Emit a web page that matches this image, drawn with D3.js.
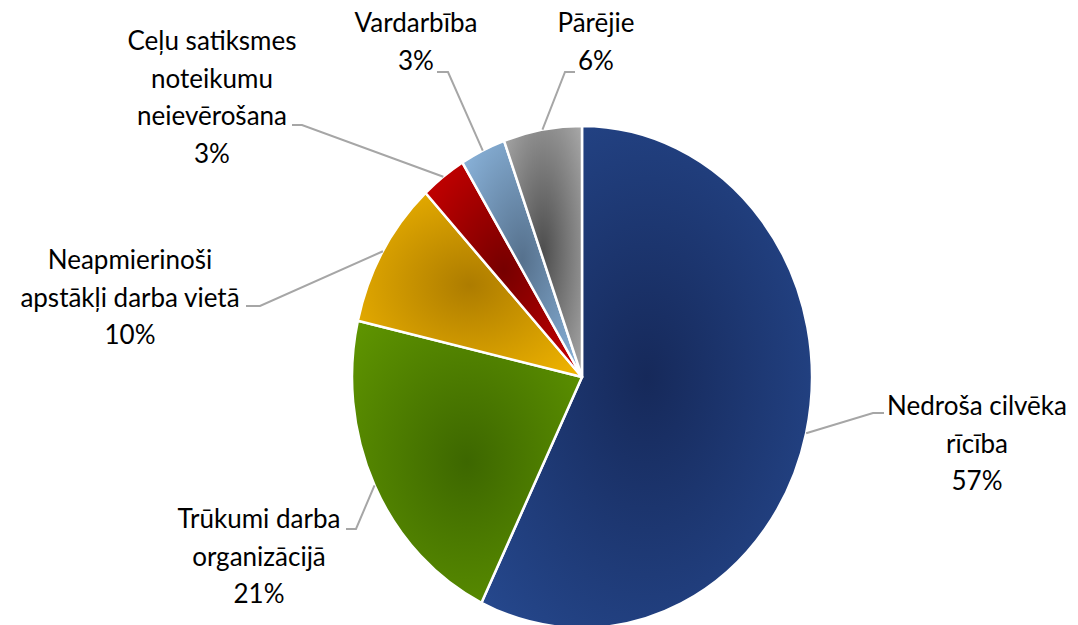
<!DOCTYPE html>
<html>
<head>
<meta charset="utf-8">
<script src="https://cdn.jsdelivr.net/npm/d3@7"></script>
<style>
  html, body { margin: 0; padding: 0; background: #fff; }
  text { font-family: Lato, "Open Sans", sans-serif; fill: #000; }
</style>
</head>
<body>
<svg></svg>
<script>
// slice names (\n = line break in the label) and their shares in %
const categories = [
  "Nedroša cilvēka\nrīcība",
  "Trūkumi darba\norganizācijā",
  "Neapmierinoši\napstākļi darba vietā",
  "Ceļu satiksmes\nnoteikumu\nneievērošana",
  "Vardarbība",
  "Pārējie"
];
const values = [57.2, 21.4, 9.5, 3.2, 3.2, 5.5];

// outer (light) and centre (dark) colour of each slice gradient
const edgeColors = ["#26498f", "#609600", "#f2b600", "#cc0000", "#8db7df", "#a8a8a8"];
const centerColors = ["#16295a", "#3d6700", "#ad7c00", "#760000", "#56718d", "#4e4e4e"];

// label block centre x, first baseline y, elbow point of the leader, end of the leader
const labelLayout = [
  {x: 977, y: 415, ex: 873, ey: 413, tx: 884},
  {x: 259, y: 528, ex: 356, ey: 529, tx: 346},
  {x: 130, y: 269, ex: 260, ey: 306, tx: 246},
  {x: 212, y: 50,  ex: 302, ey: 125, tx: 292},
  {x: 416, y: 32,  ex: 448, ey: 72,  tx: 437},
  {x: 596, y: 32,  ex: 565, ey: 72,  tx: 575}
];

const width = 1078;
const height = 625;
const cx = 582, cy = 377;
const rx = 230, ry = 251;
const lineHeight = 37.7;

const svg = d3.select("svg")
    .attr("width", width)
    .attr("height", height)
    .attr("viewBox", [0, 0, width, height]);

const data = categories.map((c, i) => ({name: c, value: values[i], i}));

const pie = d3.pie()
    .value(d => d.value)
    .sort(null);

const arcs = pie(data);

const arc = d3.arc()
    .innerRadius(0)
    .outerRadius(rx);

//radial gradient per slice, centred in the slice bounding box
const defs = svg.append("defs");
arcs.forEach((a, i) => {
  const g = defs.append("radialGradient")
      .attr("id", "grad" + i)
      .attr("cx", "50%").attr("cy", "50%").attr("r", "70%");
  g.append("stop").attr("offset", "0%").attr("stop-color", centerColors[i]);
  g.append("stop").attr("offset", "100%").attr("stop-color", edgeColors[i]);
});

//pie is stretched vertically like in the original picture
svg.append("g")
    .attr("transform", `translate(${cx},${cy}) scale(1,${ry / rx})`)
  .selectAll("path")
  .data(arcs)
  .join("path")
    .attr("d", arc)
    .attr("fill", (d, i) => `url(#grad${i})`)
    .attr("stroke", "#fff")
    .attr("stroke-width", 2.5)
    .attr("stroke-linejoin", "round")
    .attr("vector-effect", "non-scaling-stroke");

//leader lines: slice edge at mid angle -> elbow -> label
const edgePoint = d => {
  const a = (d.startAngle + d.endAngle) / 2;
  return [cx + rx * Math.sin(a), cy - ry * Math.cos(a)];
};

svg.append("g")
  .selectAll("polyline")
  .data(arcs)
  .join("polyline")
    .attr("points", (d, i) => {
      const l = labelLayout[i];
      return [edgePoint(d), [l.ex, l.ey], [l.tx, l.ey]].map(p => p.join(",")).join(" ");
    })
    .attr("fill", "none")
    .attr("stroke", "#a6a6a6")
    .attr("stroke-width", 2);

//labels: name lines + percentage
const labels = svg.append("g")
  .selectAll("text")
  .data(arcs)
  .join("text")
    .attr("text-anchor", "middle")
    .attr("font-size", 26)
    .attr("x", (d, i) => labelLayout[i].x)
    .attr("y", (d, i) => labelLayout[i].y);

labels.selectAll("tspan")
  .data(d => d.data.name.split("\n").concat([Math.round(d.data.value) + "%"]))
  .join("tspan")
    .attr("x", function() { return this.parentNode.getAttribute("x"); })
    .attr("dy", (d, j) => j === 0 ? 0 : lineHeight)
    .text(d => d);
</script>
</body>
</html>
